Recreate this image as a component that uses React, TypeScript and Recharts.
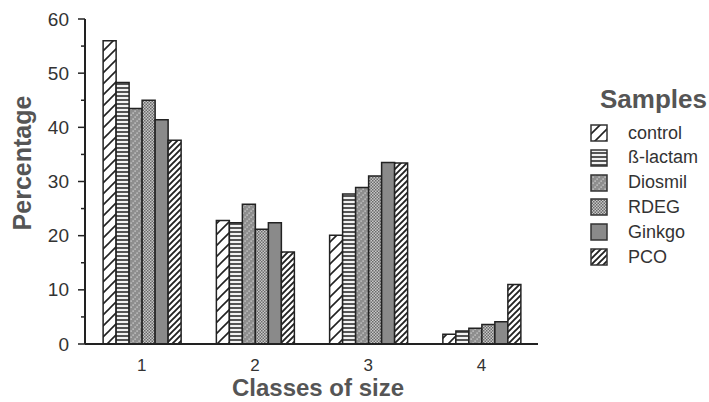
import React from 'react';
import { BarChart, Bar, XAxis, YAxis } from 'recharts';

const categories = ['1', '2', '3', '4'];
const control = [56, 22.8, 20.1, 1.8];
const betaLactam = [48.3, 22.4, 27.7, 2.4];
const diosmil = [43.5, 25.8, 28.9, 2.9];
const rdeg = [45, 21.2, 31, 3.6];
const ginkgo = [41.4, 22.4, 33.5, 4.1];
const pco = [37.6, 17, 33.4, 11];
const yTicks = [0, 5, 10, 15, 20, 25, 30, 35, 40, 45, 50, 55, 60];

const seriesNames = ['control', 'ß-lactam', 'Diosmil', 'RDEG', 'Ginkgo', 'PCO'];
const seriesKeys = ['control', 'beta', 'diosmil', 'rdeg', 'ginkgo', 'pco'];
const seriesFills = ['url(#pControl)', 'url(#pBeta)', 'url(#pDiosmil)', 'url(#pRdeg)', '#8a8a8a', 'url(#pPco)'];

const data = categories.map((c, i) => ({
  name: c,
  control: control[i],
  beta: betaLactam[i],
  diosmil: diosmil[i],
  rdeg: rdeg[i],
  ginkgo: ginkgo[i],
  pco: pco[i],
}));

const FONT = '"Liberation Sans", Arial, Helvetica, sans-serif';

const Patterns = () => (
  <defs>
    <pattern id="pControl" patternUnits="userSpaceOnUse" width="11" height="11">
      <rect width="11" height="11" fill="#fff" />
      <path d="M0,11 L11,0 M-2,2 L2,-2 M9,13 L13,9" stroke="#222" strokeWidth="1.6" />
    </pattern>
    <pattern id="pBeta" patternUnits="userSpaceOnUse" width="4" height="4">
      <rect width="4" height="4" fill="#555" />
      <rect y="1" width="4" height="2" fill="#f2f2f2" />
    </pattern>
    <pattern id="pDiosmil" patternUnits="userSpaceOnUse" width="6" height="6">
      <rect width="6" height="6" fill="#8e8e8e" />
      <rect x="0.5" y="4.5" width="1.2" height="1.2" fill="#e0e0e0" />
      <rect x="2.5" y="2.5" width="1.2" height="1.2" fill="#e0e0e0" />
      <rect x="4.5" y="0.5" width="1.2" height="1.2" fill="#e0e0e0" />
    </pattern>
    <pattern id="pRdeg" patternUnits="userSpaceOnUse" width="3" height="3">
      <rect width="3" height="3" fill="#c8c8c8" />
      <rect width="1.5" height="1.5" fill="#6a6a6a" />
      <rect x="1.5" y="1.5" width="1.5" height="1.5" fill="#6a6a6a" />
    </pattern>
    <pattern id="pPco" patternUnits="userSpaceOnUse" width="6" height="6">
      <rect width="6" height="6" fill="#fff" />
      <path d="M0,6 L6,0 M-1.5,1.5 L1.5,-1.5 M4.5,7.5 L7.5,4.5" stroke="#222" strokeWidth="1.9" />
    </pattern>
  </defs>
);

const YTick = (props: any) => {
  const { x, y, payload } = props;
  const major = payload.value % 10 === 0;
  return (
    <g>
      <line x1={x - (major ? 7 : 4)} x2={x} y1={y} y2={y} stroke="#222" strokeWidth={1.5} />
      {major && (
        <text x={x - 16} y={y} dy={6.5} textAnchor="end" fontSize={19} fill="#333" fontFamily={FONT}>
          {payload.value}
        </text>
      )}
    </g>
  );
};

const XTick = (props: any) => {
  const { x, y, payload } = props;
  return (
    <text x={x} y={y} dy={27} textAnchor="middle" fontSize={17} fill="#333" fontFamily={FONT}>
      {payload.value}
    </text>
  );
};

export default function App() {
  return (
    <div style={{ position: 'absolute', left: 0, top: 0, width: 709, height: 402, background: '#fff', fontFamily: FONT }}>
      <BarChart
        width={709}
        height={402}
        data={data}
        margin={{ top: 19, right: 171, bottom: 0, left: 55 }}
        barCategoryGap="16%"
        barGap={0}
      >
        <Patterns />
        <XAxis
          dataKey="name"
          axisLine={{ stroke: '#222', strokeWidth: 2 }}
          tickLine={false}
          tickSize={0}
          tickMargin={0}
          tick={<XTick />}
          height={58}
        />
        <YAxis
          domain={[0, 60]}
          ticks={yTicks}
          interval={0}
          width={30}
          axisLine={{ stroke: '#222', strokeWidth: 2 }}
          tickLine={false}
          tickSize={0}
          tickMargin={0}
          tick={<YTick />}
        />
        {seriesKeys.map((k, i) => (
          <Bar
            key={k}
            dataKey={k}
            name={seriesNames[i]}
            fill={seriesFills[i]}
            stroke="#222"
            strokeWidth={1.5}
            isAnimationActive={false}
          />
        ))}
      </BarChart>
      <div
        style={{
          position: 'absolute',
          left: 22,
          top: 163,
          transform: 'translate(-50%, -50%) rotate(-90deg)',
          fontSize: 25,
          fontWeight: 'bold',
          color: '#555',
          whiteSpace: 'nowrap',
        }}
      >
        Percentage
      </div>
      <div
        style={{
          position: 'absolute',
          left: 318,
          top: 388,
          transform: 'translate(-50%, -50%)',
          fontSize: 24,
          lineHeight: '24px',
          fontWeight: 'bold',
          color: '#555',
          whiteSpace: 'nowrap',
        }}
      >
        Classes of size
      </div>
      <div style={{ position: 'absolute', left: 600, top: 84, fontSize: 26, fontWeight: 'bold', color: '#555' }}>
        Samples
      </div>
      {seriesNames.map((n, i) => (
        <div
          key={n}
          style={{ position: 'absolute', left: 590, top: 124 + i * 24.8, height: 18, display: 'flex', alignItems: 'center' }}
        >
          <svg width={18} height={18} style={{ display: 'block' }}>
            <rect x={1} y={1} width={16} height={16} fill={seriesFills[i]} stroke="#333" strokeWidth={1.5} />
          </svg>
          <span style={{ marginLeft: 20, fontSize: 18, color: '#333' }}>{n}</span>
        </div>
      ))}
    </div>
  );
}
